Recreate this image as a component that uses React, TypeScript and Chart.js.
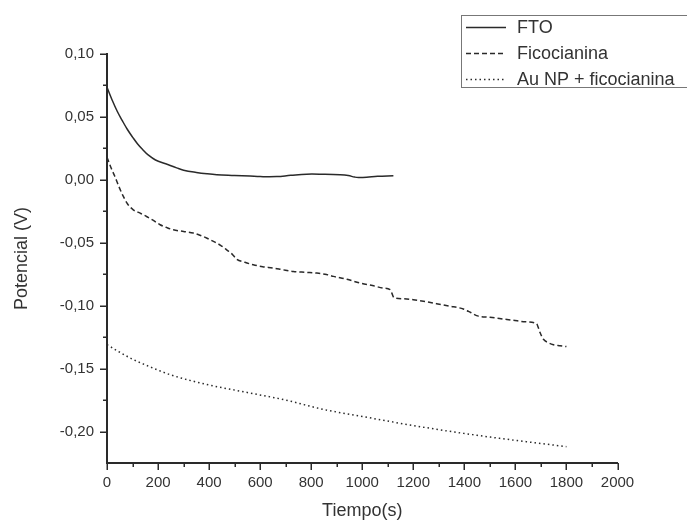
import React, { useEffect, useRef } from 'react';
import { Chart, registerables } from 'chart.js';

Chart.register(...registerables);

// ---- Data ----
const seriesLabels = ['FTO', 'Ficocianina', 'Au NP + ficocianina'];

const timeFTO = [0, 20, 40, 60, 80, 100, 120, 140, 160, 190, 230, 273, 300, 350, 392, 430, 500, 560, 600, 665, 720, 782, 850, 913, 945, 970, 985, 1017, 1060, 1122];
const potFTO = [0.0735, 0.0635, 0.0545, 0.047, 0.040, 0.034, 0.0285, 0.024, 0.020, 0.0158, 0.0128, 0.0095, 0.0077, 0.0059, 0.0048, 0.0041, 0.0035, 0.0030, 0.0026, 0.0026, 0.0036, 0.0045, 0.0044, 0.0040, 0.0034, 0.0022, 0.0018, 0.0020, 0.0028, 0.0032];

const timeFic = [0, 15, 31, 50, 64, 80, 103, 130, 155, 180, 208, 235, 260, 300, 338, 364, 390, 417, 445, 469, 490, 508, 540, 573, 610, 652, 690, 730, 780, 822, 860, 887, 940, 991, 1040, 1083, 1109, 1116, 1124, 1160, 1200, 1250, 1291, 1340, 1396, 1416, 1432, 1448, 1500, 1550, 1592, 1640, 1683, 1690, 1697, 1709, 1730, 1749, 1775, 1800];
const potFic = [0.018, 0.010, 0.0026, -0.007, -0.0132, -0.019, -0.0238, -0.0265, -0.0291, -0.032, -0.0357, -0.038, -0.0397, -0.041, -0.0423, -0.0440, -0.0462, -0.0489, -0.052, -0.0556, -0.059, -0.0630, -0.0655, -0.0675, -0.069, -0.0701, -0.0715, -0.0728, -0.0735, -0.0741, -0.0752, -0.0767, -0.079, -0.0820, -0.084, -0.0860, -0.0872, -0.090, -0.0935, -0.0945, -0.0952, -0.0968, -0.0984, -0.1003, -0.1026, -0.1045, -0.1062, -0.1079, -0.1092, -0.1105, -0.1116, -0.1128, -0.1143, -0.1175, -0.1215, -0.1265, -0.1295, -0.131, -0.1318, -0.1325];

const timeAu = [0, 50, 100, 150, 250, 400, 550, 700, 850, 1000, 1150, 1300, 1450, 1600, 1700, 1800];
const potAu = [-0.131, -0.137, -0.1425, -0.147, -0.155, -0.163, -0.169, -0.175, -0.1825, -0.188, -0.1935, -0.1985, -0.203, -0.207, -0.2095, -0.212];

const xMajorTicks = [0, 200, 400, 600, 800, 1000, 1200, 1400, 1600, 1800, 2000];
const xMinorTicks = [100, 300, 500, 700, 900, 1100, 1300, 1500, 1700, 1900];
const yMajorTicks = [-0.2, -0.15, -0.1, -0.05, 0, 0.05, 0.1];
const yMinorTicks = [-0.175, -0.125, -0.075, -0.025, 0.025, 0.075];

const xTitle = 'Tiempo(s)';
const yTitle = 'Potencial (V)';

const FONT = "'Liberation Sans', Arial, sans-serif";
const TEXT = '#333333';
const LINE = '#2a2a2a';

const toPoints = (xs: number[], ys: number[]) => xs.map((x, i) => ({ x, y: ys[i] }));

const originTicks = {
  id: 'originTicks',
  afterDraw(chart: any) {
    const { ctx } = chart;
    const xs = chart.scales.x;
    const ys = chart.scales.y;
    const axisY = chart.chartArea.bottom;
    const axisX = chart.chartArea.left;
    ctx.save();
    ctx.strokeStyle = LINE;
    ctx.lineWidth = 1.5;
    ctx.beginPath();
    xMajorTicks.forEach((v) => {
      const p = Math.round(xs.getPixelForValue(v)) + 0.25;
      ctx.moveTo(p, axisY);
      ctx.lineTo(p, axisY + 7);
    });
    xMinorTicks.forEach((v) => {
      const p = Math.round(xs.getPixelForValue(v)) + 0.25;
      ctx.moveTo(p, axisY);
      ctx.lineTo(p, axisY + 4);
    });
    yMajorTicks.forEach((v) => {
      const p = Math.round(ys.getPixelForValue(v)) + 0.25;
      ctx.moveTo(axisX, p);
      ctx.lineTo(axisX - 7, p);
    });
    yMinorTicks.forEach((v) => {
      const p = Math.round(ys.getPixelForValue(v)) + 0.25;
      ctx.moveTo(axisX, p);
      ctx.lineTo(axisX - 4, p);
    });
    ctx.stroke();
    ctx.restore();
  },
};

const boxLegend = {
  id: 'boxLegend',
  afterDraw(chart: any) {
    const { ctx } = chart;
    const left = 461;
    const top = 15;
    const rowH = 26;
    ctx.save();
    ctx.strokeStyle = '#777777';
    ctx.lineWidth = 1;
    ctx.strokeRect(left + 0.5, top + 0.5, 260, 72);
    ctx.font = `18px ${FONT}`;
    ctx.textBaseline = 'middle';
    ctx.textAlign = 'left';
    chart.data.datasets.forEach((ds: any, i: number) => {
      const cy = top + 12.5 + i * rowH;
      ctx.strokeStyle = ds.borderColor;
      ctx.lineWidth = ds.borderWidth;
      ctx.setLineDash(ds.borderDash || []);
      ctx.beginPath();
      ctx.moveTo(left + 5, cy);
      ctx.lineTo(left + 45, cy);
      ctx.stroke();
      ctx.setLineDash([]);
      ctx.fillStyle = TEXT;
      ctx.fillText(ds.label, left + 56, cy + 1);
    });
    ctx.restore();
  },
};

export default function App() {
  const ref = useRef<HTMLCanvasElement | null>(null);

  useEffect(() => {
    if (!ref.current) return;
    const chart = new Chart(ref.current, {
      type: 'line',
      data: {
        datasets: [
          {
            label: seriesLabels[0],
            data: toPoints(timeFTO, potFTO),
            borderColor: LINE,
            borderWidth: 1.5,
            pointRadius: 0,
            tension: 0.4,
          },
          {
            label: seriesLabels[1],
            data: toPoints(timeFic, potFic),
            borderColor: LINE,
            borderWidth: 1.5,
            borderDash: [5, 3],
            pointRadius: 0,
            cubicInterpolationMode: 'monotone',
          },
          {
            label: seriesLabels[2],
            data: toPoints(timeAu, potAu),
            borderColor: LINE,
            borderWidth: 1.5,
            borderDash: [1.5, 3],
            pointRadius: 0,
            cubicInterpolationMode: 'monotone',
          },
        ],
      },
      options: {
        animation: false,
        responsive: false,
        devicePixelRatio: 1,
        layout: { padding: { top: 54, right: 69.5, left: 0, bottom: 0 } },
        plugins: { legend: { display: false }, tooltip: { enabled: false } },
        scales: {
          x: {
            type: 'linear',
            min: 0,
            max: 2000,
            afterFit: (s: any) => { s.height = 59; },
            afterBuildTicks: (s: any) => { s.ticks = xMajorTicks.map((value) => ({ value })); },
            grid: { display: false, drawTicks: false },
            border: { display: true, color: LINE, width: 2 },
            ticks: {
              padding: 11,
              color: TEXT,
              font: { family: FONT, size: 15 },
              maxRotation: 0,
              autoSkip: false,
              callback: (v: any) => String(v),
            },
            title: {
              display: true,
              text: xTitle,
              color: TEXT,
              font: { family: FONT, size: 18 },
              padding: { top: 0, bottom: 0 },
            },
          },
          y: {
            type: 'linear',
            min: -0.225,
            max: 0.1,
            afterFit: (s: any) => { s.width = 107; },
            afterBuildTicks: (s: any) => { s.ticks = yMajorTicks.map((value) => ({ value })); },
            grid: { display: false, drawTicks: false },
            border: { display: true, color: LINE, width: 2 },
            ticks: {
              padding: 13,
              color: TEXT,
              font: { family: FONT, size: 15 },
              autoSkip: false,
              callback: (v: any) => Number(v).toFixed(2).replace('.', ','),
            },
            title: {
              display: true,
              text: yTitle,
              color: TEXT,
              font: { family: FONT, size: 18 },
              padding: { top: 11, bottom: 0 },
            },
          },
        },
      },
      plugins: [originTicks, boxLegend],
    } as any);
    return () => chart.destroy();
  }, []);

  return (
    <div style={{ position: 'absolute', left: 0, top: 0, width: 687, height: 522, background: '#ffffff' }}>
      <canvas ref={ref} width={687} height={522} style={{ display: 'block' }} />
    </div>
  );
}
